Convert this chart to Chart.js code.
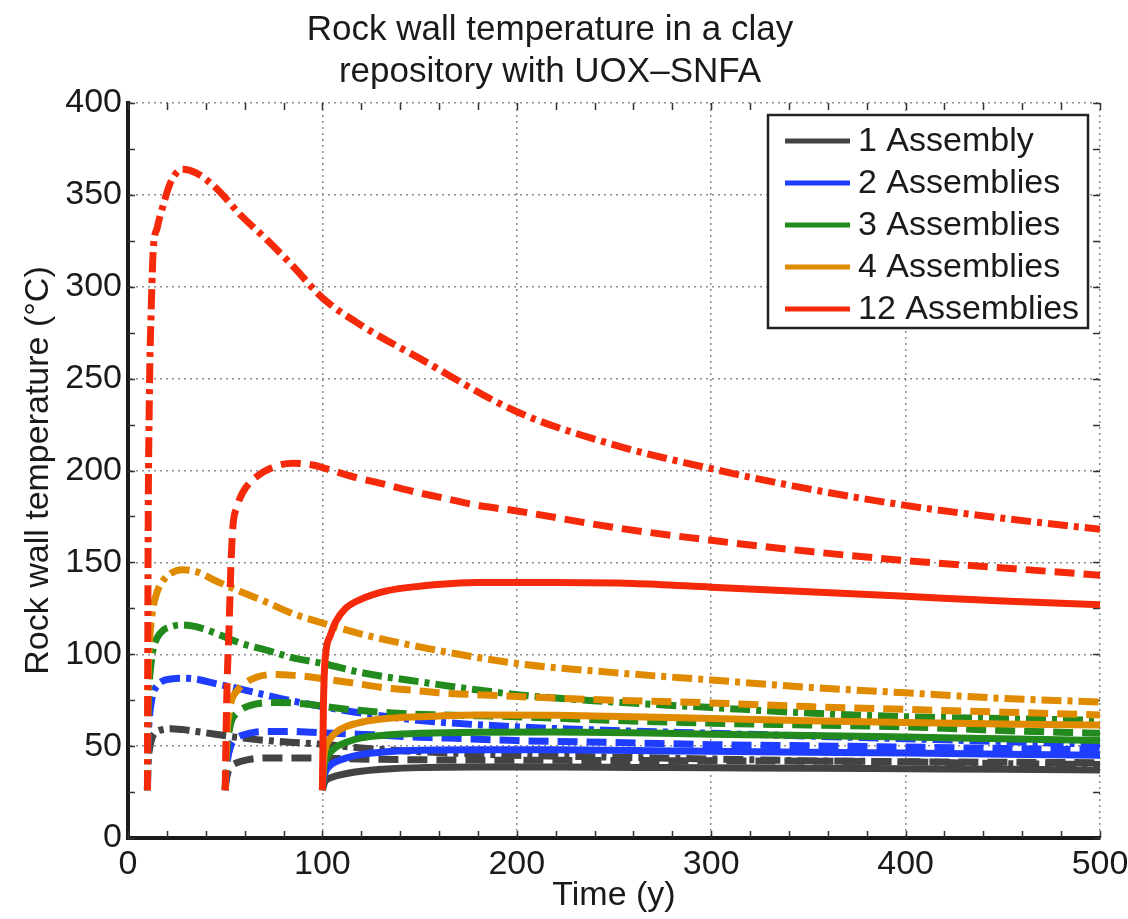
<!DOCTYPE html>
<html><head><meta charset="utf-8">
<script src="https://cdn.jsdelivr.net/npm/chart.js@4.4.1/dist/chart.umd.min.js"></script>
<style>html,body{margin:0;padding:0;background:#fff;}#wrap{width:1128px;height:919px;}</style>
</head><body><div id="wrap"><canvas id="c" width="1128" height="919"></canvas></div>
<script>
// ---- data ----
const titleLines = ['Rock wall temperature in a clay', 'repository with UOX\u2013SNFA'];
const xAxisTitle = 'Time (y)';
const yAxisTitle = 'Rock wall temperature (\u00B0C)';
const seriesLabels = ['1 Assembly', '2 Assemblies', '3 Assemblies', '4 Assemblies', '12 Assemblies'];
const seriesColors = ['#434343', '#1f3dff', '#238a1e', '#e08a00', '#f52a0a'];
const xTicks = [0, 100, 200, 300, 400, 500];
const yTicks = [0, 50, 100, 150, 200, 250, 300, 350, 400];

// emplacement after 10 years (dash-dot)
const time10 = [10, 10.3, 11, 12, 13, 15, 18, 22, 28, 35, 45, 58, 72, 85, 100, 120, 150, 200, 250, 300, 350, 400, 450, 500];
const gray10   = [26, 40, 48, 53, 56, 58, 59, 59.5, 59, 58, 56.5, 54.5, 53, 52, 51, 49, 47, 45, 44, 43, 42, 41.5, 40.5, 40];
const blue10   = [26, 50, 65, 74, 79, 83, 85.5, 86.5, 87, 86.5, 84, 81, 77.5, 74.5, 71.5, 68, 64, 60.5, 58.5, 57, 55.5, 54, 52.5, 51];
const green10  = [26, 65, 85, 96, 103, 109, 113, 115, 116, 115, 111.5, 106, 102, 98, 95, 90, 85, 78, 74, 71, 68, 66, 65, 64];
const orange10 = [26, 80, 105, 118, 126, 134, 140, 144, 146, 145, 140, 134, 128, 122, 117, 111, 104, 95, 90, 86, 82, 79, 76, 74];
const red10    = [26, 150, 240, 290, 320, 332, 344, 357, 364, 362, 354, 339, 325, 311, 294, 279, 261, 232, 214, 201, 190, 181, 174, 168];

// emplacement after 50 years (dashed)
const time50 = [50, 50.5, 51, 52, 53, 54, 56, 59, 66, 75, 85, 95, 105, 118, 130, 145, 160, 180, 200, 250, 300, 350, 400, 450, 500];
const gray50   = [26, 31, 34, 37.5, 39, 40, 41, 42, 43.3, 43.6, 43.6, 43.5, 43.3, 43, 42.8, 42.6, 42.5, 42.4, 42.3, 42.2, 42, 41.8, 41.5, 41.2, 41];
const blue50   = [26, 35, 41, 47, 50.5, 52.5, 54.5, 56, 57.7, 58, 58, 57.5, 57, 56.5, 56, 55, 54.5, 53.8, 53, 52, 50.8, 50.2, 49.5, 48.7, 48];
const green50  = [26, 40, 50, 58, 63, 65.5, 68, 70.5, 73, 73.8, 73.5, 72.5, 71, 69.5, 68.5, 67.5, 67, 66.5, 66, 64, 62.5, 61.5, 60.5, 58.5, 57];
const orange50 = [26, 45, 58, 68, 74, 77, 80, 83.5, 87.5, 89, 88.5, 87.5, 86, 84, 82, 80.5, 79, 78, 77, 75, 73.5, 71.5, 70, 68.5, 67];
const red50    = [26, 60, 85, 115, 150, 170, 180, 188, 196.5, 202, 204, 203, 200, 196, 193, 189, 185.5, 181, 178, 169, 162, 156, 151, 147, 143];

// emplacement after 100 years (solid)
const time100 = [100, 100.5, 101, 102, 104, 107, 112, 120, 133, 150, 180, 220, 260, 300, 350, 400, 450, 500];
const gray100   = [26, 28, 30, 31.5, 32.7, 33.8, 35, 36.3, 37.5, 38.3, 38.6, 38.6, 38.4, 38.2, 38, 37.7, 37.4, 37];
const blue100   = [26, 31, 34, 37, 39.5, 41.5, 43.5, 45.5, 47, 47.8, 48, 48, 47.6, 47.2, 46.7, 46.2, 45.6, 45];
const green100  = [26, 35, 40, 43.5, 46.5, 49.5, 52, 54.5, 56, 57, 57.6, 57.7, 57.3, 56.5, 55.8, 55, 54, 53];
const orange100 = [26, 40, 46, 50.5, 54, 57.5, 60.5, 63, 65, 66, 67, 66.8, 66, 65, 63.8, 62.8, 62, 61.5];
const red100    = [26, 70, 90, 103, 110, 118, 125, 130, 134.5, 137, 139, 139, 138.5, 136.5, 134, 131.5, 129, 127];

// ---- build ----
const FONT = '"Liberation Sans", Arial, Helvetica, sans-serif';
const TXT = '#1a1a1a';
const DASHED = [20, 9];
const DASHDOT = [20, 6, 5, 6];

function pts(ts, vs) { return ts.map((t, i) => ({x: t, y: vs[i]})); }
function ds(label, color, ts, vs, dash) {
  return {
    label: label, data: pts(ts, vs), borderColor: color, backgroundColor: color,
    borderWidth: 7, borderDash: dash, pointRadius: 0, fill: false,
    cubicInterpolationMode: 'monotone', borderCapStyle: 'butt', borderJoinStyle: 'round'
  };
}
const groups = [
  [red10, red50, red100],
  [orange10, orange50, orange100],
  [green10, green50, green100],
  [blue10, blue50, blue100],
  [gray10, gray50, gray100]
];
const groupIdx = [4, 3, 2, 1, 0];
const datasets = [];
groups.forEach((g, k) => {
  const i = groupIdx[k];
  datasets.push(ds(seriesLabels[i], seriesColors[i], time100, g[2], []));
  datasets.push(ds(seriesLabels[i], seriesColors[i], time50, g[1], DASHED));
  datasets.push(ds(seriesLabels[i], seriesColors[i], time10, g[0], DASHDOT));
});

const minorTicks = {
  id: 'minorTicks',
  beforeDatasetsDraw(chart) {
    const {ctx, chartArea: a, scales: {x, y}} = chart;
    ctx.save();
    ctx.strokeStyle = '#333';
    ctx.lineWidth = 1.5;
    ctx.beginPath();
    for (let v = 0; v <= 500; v += 20) {
      const px = Math.round(x.getPixelForValue(v)) + 0.5;
      ctx.moveTo(px, a.bottom); ctx.lineTo(px, a.bottom - 7);
      ctx.moveTo(px, a.top); ctx.lineTo(px, a.top + 7);
    }
    for (let v = 0; v <= 400; v += 25) {
      const py = Math.round(y.getPixelForValue(v)) + 0.5;
      ctx.moveTo(a.left, py); ctx.lineTo(a.left + 7, py);
      ctx.moveTo(a.right, py); ctx.lineTo(a.right - 7, py);
    }
    ctx.stroke();
    ctx.restore();
  }
};

const boxLegend = {
  id: 'boxLegend',
  afterDraw(chart) {
    const {ctx, chartArea: a} = chart;
    const w = 320, h = 213;
    const bx = a.right - 12 - w, by = a.top + 12;
    ctx.save();
    ctx.fillStyle = '#fff';
    ctx.fillRect(bx, by, w, h);
    ctx.strokeStyle = '#222';
    ctx.lineWidth = 2.5;
    ctx.strokeRect(bx, by, w, h);
    ctx.font = '34px ' + FONT;
    ctx.textBaseline = 'middle';
    ctx.textAlign = 'left';
    seriesLabels.forEach((lab, i) => {
      const cy = by + 26 + i * 42;
      ctx.strokeStyle = seriesColors[i];
      ctx.lineWidth = 5;
      ctx.setLineDash([]);
      ctx.beginPath(); ctx.moveTo(bx + 17, cy); ctx.lineTo(bx + 82, cy); ctx.stroke();
      ctx.fillStyle = TXT;
      ctx.fillText(lab, bx + 90, cy + 1);
    });
    ctx.restore();
  }
};

new Chart(document.getElementById('c'), {
  type: 'line',
  data: {datasets: datasets},
  options: {
    responsive: false, animation: false, devicePixelRatio: 1,
    layout: {padding: {left: 0, right: 28, top: 0, bottom: 0}},
    plugins: {
      legend: {display: false},
      tooltip: {enabled: false},
      title: {
        display: true, text: titleLines, color: TXT,
        font: {family: FONT, size: 35, weight: 'normal', lineHeight: 1.2},
        padding: {top: 9, bottom: 10}
      }
    },
    scales: {
      x: {
        type: 'linear', min: 0, max: 500,
        afterBuildTicks(s) { s.ticks = xTicks.map(v => ({value: v})); },
        afterFit(s) { s.height = 81; s.paddingRight = 0; s.paddingLeft = 0; },
        ticks: {color: TXT, font: {family: FONT, size: 34}, padding: 6, maxRotation: 0},
        grid: {color: '#8a8a8a', lineWidth: 1.5, drawTicks: false},
        border: {display: true, color: '#1a1a1a', width: 4, dash: [2, 4]},
        title: {display: true, text: xAxisTitle, color: TXT, font: {family: FONT, size: 34}, padding: {top: 0, bottom: 3}}
      },
      y: {
        type: 'linear', min: 0, max: 400,
        afterBuildTicks(s) { s.ticks = yTicks.map(v => ({value: v})); },
        afterFit(s) { s.width = 128; },
        ticks: {color: TXT, font: {family: FONT, size: 34}, padding: 6},
        grid: {color: '#8a8a8a', lineWidth: 1.5, drawTicks: false},
        border: {display: true, color: '#1a1a1a', width: 4, dash: [2, 4]},
        title: {display: true, text: yAxisTitle, color: TXT, font: {family: FONT, size: 34}, padding: {top: 18, bottom: 0}}
      }
    }
  },
  plugins: [minorTicks, boxLegend]
});
</script></body></html>
